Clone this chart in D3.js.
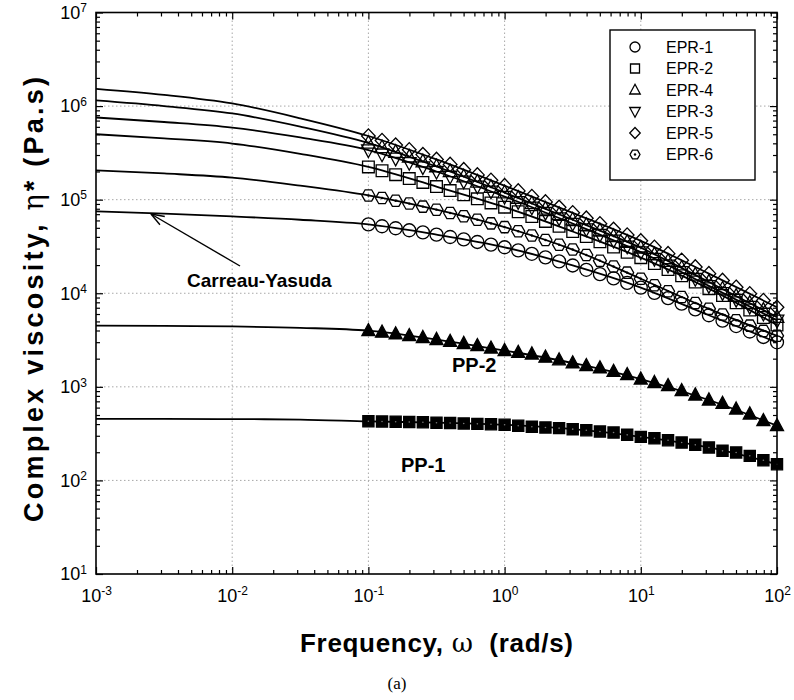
<!DOCTYPE html>
<html><head><meta charset="utf-8">
<script src="https://cdn.jsdelivr.net/npm/d3@7"></script>
<style>body{margin:0;background:#fff}svg{display:block}</style>
</head><body><svg id="c" width="794" height="700"></svg>
<script>
// ---------- data ----------
const freq = [0.1,0.1259,0.1585,0.1995,0.2512,0.3162,0.3981,0.5012,0.631,0.7943,
  1,1.259,1.585,1.995,2.512,3.162,3.981,5.012,6.31,7.943,
  10,12.59,15.85,19.95,25.12,31.62,39.81,50.12,63.1,79.43,100];
const epr1 = [54400,52000,49500,47100,44700,42300,39900,37600,35300,33100,31000,28700,26400,24200,21900,19800,17800,16000,14400,12900,11500,10100,8870,7730,6710,5820,5090,4460,3900,3410,2990];
const epr2 = [224000,204000,185000,168000,153000,138000,125000,113000,102000,92300,83200,74300,66100,58600,51900,45700,40300,35500,31200,27400,24000,20800,17900,15400,13200,11200,9460,7930,6620,5510,4570];
const epr4 = [403000,361000,322000,287000,255000,226000,200000,176000,155000,136000,119000,104000,91000,79600,69700,61000,53300,46600,40600,35200,30600,25900,22000,18600,15700,13200,11100,9330,7850,6610,5560];
const epr3 = [339000,306000,276000,248000,223000,200000,177000,157000,139000,123000,108000,94800,83000,72600,63500,55600,48500,42300,36700,31800,27500,23400,19900,16900,14300,12000,10100,8550,7210,6080,5130];
const epr5 = [479000,429000,383000,341000,303000,269000,238000,209000,184000,161000,141000,124000,108000,94600,82800,72400,63400,55300,48200,41900,36300,31000,26500,22500,19100,16200,13700,11600,9860,8360,7080];
const epr6 = [111000,104000,97500,90800,84300,78200,72100,66400,61000,55800,50900,46000,41400,37100,33000,29300,25600,22300,19300,16600,14300,12200,10500,9100,7870,6820,5920,5150,4510,3960,3510];
const pp2 = [3980,3830,3670,3520,3360,3200,3050,2900,2750,2590,2440,2330,2240,2070,1940,1800,1680,1590,1460,1350,1210,1110,1030,908,817,723,664,578,512,434,384];
const pp1 = [428,426,424,421,418,414,410,406,402,398,393,384,374,368,362,353,344,333,325,307,292,282,269,254,240,225,207,199,183,164,149];

// Carreau-Yasuda fit curves
const fitFreq = [0.001,0.00316,0.01,0.0316,0.1,0.316,1,3.16,10,31.6,100];
const fit5 = [1528000,1318000,1067000,741000,479000,269000,141000,72400,36300,16200,7080];
const fit4 = [1148000,1000000,834000,603000,403000,226000,119000,61000,30600,13200,5560];
const fit3 = [755000,676000,590000,462000,339000,200000,108000,55600,27500,12000,5130];
const fit2 = [500000,452000,398000,309000,224000,138000,83200,45700,24000,11200,4570];
const fit6 = [206000,190500,172000,141000,111000,78200,50900,29300,14300,6820,3510];
const fit1 = [75000,70800,66200,61000,54400,42300,31000,19800,11500,5820,2990];
const fitPP2 = [4500,4480,4420,4270,3980,3200,2440,1800,1210,723,384];
const fitPP1 = [455,454,452,447,428,414,393,353,292,225,149];

const xMajor = [1e-3,1e-2,1e-1,1e0,1e1,1e2];
const yMajor = [1e1,1e2,1e3,1e4,1e5,1e6,1e7];
const legendNames = ["EPR-1","EPR-2","EPR-4","EPR-3","EPR-5","EPR-6"];
const legendShapes = ["circle","square","triUp","triDown","diamond","hex"];

// ---------- chart ----------
const svg = d3.select("#c");
const L=96,R=777,T=12.5,B=574;
const x = d3.scaleLog().domain([1e-3,1e2]).range([L,R]);
const y = d3.scaleLog().domain([1e1,1e7]).range([B,T]);
const FONT = "'Liberation Sans', Arial, Helvetica, sans-serif";

// grid
const grid = svg.append("g").attr("stroke","#a8a8a8").attr("stroke-width",1).attr("stroke-dasharray","1.5,2.5");
xMajor.slice(1,-1).forEach(v=>grid.append("line").attr("x1",x(v)).attr("x2",x(v)).attr("y1",T).attr("y2",B));
yMajor.slice(1,-1).forEach(v=>grid.append("line").attr("x1",L).attr("x2",R).attr("y1",y(v)).attr("y2",y(v)));

// axes (inward ticks, all four sides)
const minorX = x.ticks().filter(v=>!xMajor.some(m=>Math.abs(m-v)/m<1e-6));
const minorY = y.ticks().filter(v=>!yMajor.some(m=>Math.abs(m-v)/m<1e-6));
function sup(sel){
  sel.selectAll(".tick text").each(function(d){
    const e = Math.round(Math.log10(d));
    const t = d3.select(this).text(null);
    t.append("tspan").text("10");
    t.append("tspan").attr("dy","-0.55em").attr("font-size","12px").text(e);
  });
}
function styleAxis(g){ g.select(".domain").remove(); g.selectAll(".tick line").attr("stroke","#000").attr("stroke-width",1.2);
  g.selectAll("text").attr("font-family",FONT).attr("font-size","18px").attr("fill","#000"); }

svg.append("g").attr("transform",`translate(0,${B})`).call(d3.axisBottom(x).tickValues(xMajor).tickSize(-7).tickPadding(15)).call(styleAxis).call(sup);
svg.append("g").attr("transform",`translate(0,${B})`).call(d3.axisBottom(x).tickValues(minorX).tickSize(-4).tickFormat("")).call(styleAxis);
svg.append("g").attr("transform",`translate(0,${T})`).call(d3.axisTop(x).tickValues(xMajor).tickSize(-7).tickFormat("")).call(styleAxis);
svg.append("g").attr("transform",`translate(0,${T})`).call(d3.axisTop(x).tickValues(minorX).tickSize(-4).tickFormat("")).call(styleAxis);
svg.append("g").attr("transform",`translate(${L},0)`).call(d3.axisLeft(y).tickValues(yMajor).tickSize(-7).tickPadding(9)).call(styleAxis).call(sup);
svg.append("g").attr("transform",`translate(${L},0)`).call(d3.axisLeft(y).tickValues(minorY).tickSize(-4).tickFormat("")).call(styleAxis);
svg.append("g").attr("transform",`translate(${R},0)`).call(d3.axisRight(y).tickValues(yMajor).tickSize(-7).tickFormat("")).call(styleAxis);
svg.append("g").attr("transform",`translate(${R},0)`).call(d3.axisRight(y).tickValues(minorY).tickSize(-4).tickFormat("")).call(styleAxis);

// fit curves
const line = d3.line().x(d=>x(d[0])).y(d=>y(d[1])).curve(d3.curveMonotoneX);
[fit1,fit2,fit3,fit4,fit5,fit6,fitPP2,fitPP1].forEach(f=>{
  svg.append("path").attr("d",line(fitFreq.map((v,i)=>[v,f[i]]))).attr("fill","none").attr("stroke","#000").attr("stroke-width",1.8);
});

// markers
function shape(g, type, cx, cy, r, filled){
  const fill = filled ? "#000" : "none";
  const st = {stroke:"#000","stroke-width":1.3,fill:fill};
  let el;
  if(type==="circle") el = g.append("circle").attr("cx",cx).attr("cy",cy).attr("r",r);
  else {
    let pts;
    if(type==="square") pts=[[-r,-r],[r,-r],[r,r],[-r,r]].map(p=>[p[0]*0.9,p[1]*0.9]);
    else if(type==="triUp") pts=[[0,-r*1.15],[r*1.05,r*0.8],[-r*1.05,r*0.8]];
    else if(type==="triDown") pts=[[0,r*1.15],[r*1.05,-r*0.8],[-r*1.05,-r*0.8]];
    else if(type==="diamond") pts=[[0,-r*1.1],[r*1.05,0],[0,r*1.1],[-r*1.05,0]];
    else if(type==="hex") pts=d3.range(6).map(k=>[r*Math.cos(k*Math.PI/3),r*Math.sin(k*Math.PI/3)]);
    el = g.append("polygon").attr("points",pts.map(p=>[cx+p[0],cy+p[1]].join(",")).join(" "));
  }
  Object.entries(st).forEach(([k,v])=>el.attr(k,v));
  if(type==="hex") g.append("circle").attr("cx",cx).attr("cy",cy).attr("r",1.2).attr("fill","#000");
}
const series = [
  {v:epr1,s:"circle",f:false},{v:epr6,s:"hex",f:false},{v:epr2,s:"square",f:false},
  {v:epr3,s:"triDown",f:false},{v:epr4,s:"triUp",f:false},{v:epr5,s:"diamond",f:false},
  {v:pp2,s:"triUp",f:true},{v:pp1,s:"square",f:true}
];
const mg = svg.append("g");
series.forEach(se=>se.v.forEach((val,i)=>shape(mg,se.s,x(freq[i]),y(val),se.f?6.2:6.5,se.f)));
mg.selectAll(null).data(pp1).enter().append("circle").attr("cx",(d,i)=>x(freq[i])).attr("cy",d=>y(d)).attr("r",0.8).attr("fill","#777");

// frame
svg.append("rect").attr("x",L).attr("y",T).attr("width",R-L).attr("height",B-T).attr("fill","none").attr("stroke","#000").attr("stroke-width",1.6);

// legend
const lg = svg.append("g");
lg.append("rect").attr("x",610).attr("y",30).attr("width",145).attr("height",150).attr("fill","#fff").attr("stroke","#000").attr("stroke-width",1.4);
legendNames.forEach((n,i)=>{
  const cy = 47 + i*21.5;
  shape(lg, legendShapes[i], 635, cy, 5, false);
  lg.append("text").attr("x",666).attr("y",cy+5.5).attr("font-family",FONT).attr("font-size","16px").text(n);
});

// annotations
svg.append("text").attr("x",187).attr("y",287).attr("font-family",FONT).attr("font-weight","bold").attr("font-size","19px").text("Carreau-Yasuda");
svg.append("line").attr("x1",240).attr("y1",266).attr("x2",151).attr("y2",214).attr("stroke","#000").attr("stroke-width",1.4);
(function(){ const ang=Math.atan2(266-214,240-151); const len=14;
  [0.35,-0.35].forEach(a=>svg.append("line").attr("x1",151).attr("y1",214)
    .attr("x2",151+len*Math.cos(ang+a)).attr("y2",214+len*Math.sin(ang+a)).attr("stroke","#000").attr("stroke-width",1.4)); })();
svg.append("text").attr("x",452).attr("y",372).attr("font-family",FONT).attr("font-weight","bold").attr("font-size","20px").text("PP-2");
svg.append("text").attr("x",401).attr("y",472).attr("font-family",FONT).attr("font-weight","bold").attr("font-size","20px").text("PP-1");

// axis titles
const xt = svg.append("text").attr("x",300).attr("y",652).attr("textLength",273).attr("lengthAdjust","spacing")
  .attr("font-family",FONT).attr("font-weight","bold").attr("font-size","26px");
xt.append("tspan").text("Frequency, ");
xt.append("tspan").attr("font-family","'DejaVu Serif', serif").attr("font-weight","normal").text("ω");
xt.append("tspan").text("\u00a0\u00a0(rad/s)");
const yt = svg.append("text").attr("transform","translate(43,522) rotate(-90)").attr("textLength",445).attr("lengthAdjust","spacing")
  .attr("font-family",FONT).attr("font-weight","bold").attr("font-size","27px");
yt.append("tspan").text("Complex viscosity, ");
yt.append("tspan").attr("font-family","'DejaVu Serif', serif").attr("font-weight","normal").text("η");
yt.append("tspan").text("* (Pa.s)");
svg.append("text").attr("x",397).attr("y",689).attr("text-anchor","middle").attr("font-family","'Liberation Serif', 'Times New Roman', serif").attr("font-size","17px").text("(a)");
</script></body></html>
